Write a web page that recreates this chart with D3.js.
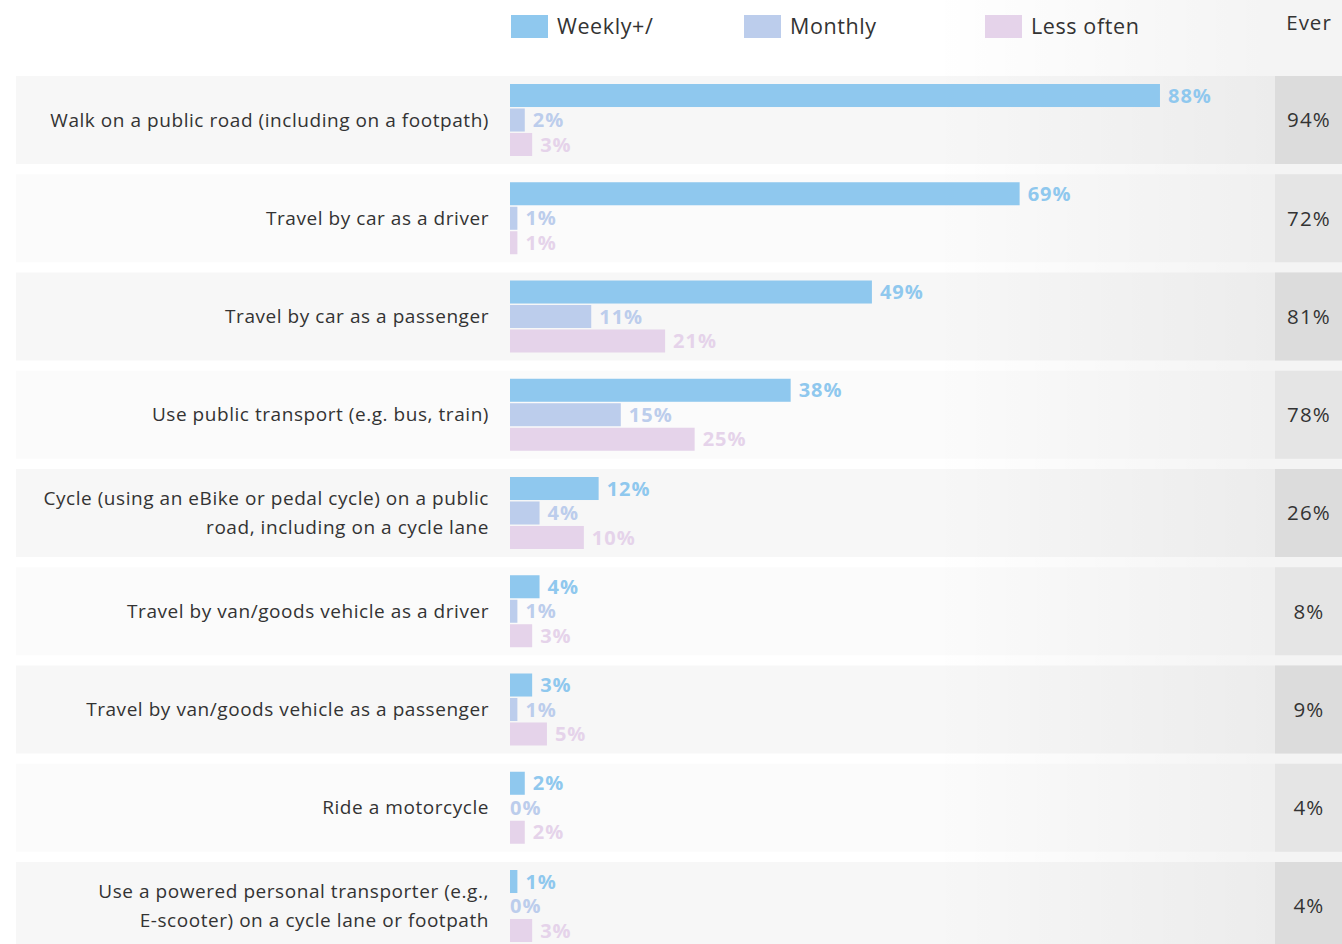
<!DOCTYPE html>
<html>
<head>
<meta charset="utf-8">
<script src="https://cdn.jsdelivr.net/npm/d3@7"></script>
<style>
  html, body { margin: 0; padding: 0; background: #ffffff; }
  svg { display: block; }
  text { font-family: "Open Sans", "Noto Sans", sans-serif; }
</style>
</head>
<body>
<svg id="chart" width="1342" height="944"></svg>
<script>
// Travel modes and how often people use them (% of respondents)
const categories = [
  "Walk on a public road (including on a footpath)",
  "Travel by car as a driver",
  "Travel by car as a passenger",
  "Use public transport (e.g. bus, train)",
  "Cycle (using an eBike or pedal cycle) on a public|road, including on a cycle lane",
  "Travel by van/goods vehicle as a driver",
  "Travel by van/goods vehicle as a passenger",
  "Ride a motorcycle",
  "Use a powered personal transporter (e.g.,|E-scooter) on a cycle lane or footpath"
];
const seriesNames = ["Weekly+/", "Monthly", "Less often"];
const weekly    = [88, 69, 49, 38, 12, 4, 3, 2, 1];
const monthly   = [2, 1, 11, 15, 4, 1, 1, 0, 0];
const lessOften = [3, 1, 21, 25, 10, 3, 5, 2, 3];
const ever      = [94, 72, 81, 78, 26, 8, 9, 4, 4];
const everTitle = "Ever";

const colors = ["#8fc8ee", "#bccdec", "#e5d3ea"];
const seriesValues = [weekly, monthly, lessOften];

const W = 1342, H = 944;
const svg = d3.select("#chart");

const rowLeft = 16, everLeft = 1275;
const y = d3.scaleBand().domain(d3.range(categories.length)).range([76, 950]).paddingInner(0.1043).paddingOuter(0);
const inner = d3.scaleBand().domain(d3.range(3)).range([8, 80]).paddingInner(0.06);
const x = d3.scaleLinear().domain([0, 100]).range([510, 1248.6]);

// soft shading that darkens towards the right side
const defs = svg.append("defs");
const grad = defs.append("linearGradient").attr("id", "shade")
  .attr("gradientUnits", "userSpaceOnUse").attr("x1", 930).attr("x2", everLeft).attr("y1", 0).attr("y2", 0);
grad.append("stop").attr("offset", 0).attr("stop-color", "#000").attr("stop-opacity", 0);
grad.append("stop").attr("offset", 1).attr("stop-color", "#000").attr("stop-opacity", 0.045);

const bgLayer = svg.append("g");
const shadeLayer = svg.append("g");
const fgLayer = svg.append("g");

// row backgrounds
bgLayer.selectAll("rect").data(categories).join("rect")
  .attr("x", rowLeft).attr("y", (d, i) => y(i))
  .attr("width", W - rowLeft).attr("height", y.bandwidth())
  .attr("fill", (d, i) => i % 2 === 0 ? "#f7f7f7" : "#fbfbfb");

shadeLayer.append("rect").attr("x", 0).attr("y", 0).attr("width", W).attr("height", H)
  .attr("fill", "url(#shade)");

const rows = fgLayer.selectAll("g").data(categories).join("g")
  .attr("transform", (d, i) => `translate(0,${y(i)})`);

// "Ever" column cells
rows.append("rect")
  .attr("x", everLeft).attr("width", W - everLeft).attr("height", y.bandwidth())
  .attr("fill", (d, i) => i % 2 === 0 ? "#dcdcdc" : "#e5e5e5");

// category labels
rows.append("text")
  .attr("x", 489)
  .attr("text-anchor", "end")
  .attr("fill", "#333")
  .style("font-size", "19px")
  .style("letter-spacing", "0.55px")
  .each(function(d) {
    const lines = d.split("|");
    const t = d3.select(this);
    const mid = y.bandwidth() / 2;
    const lh = 29;
    lines.forEach((line, k) => {
      t.append("tspan")
        .attr("x", 489)
        .attr("y", mid + (k - (lines.length - 1) / 2) * lh)
        .attr("dy", "0.35em")
        .text(line);
    });
  });

// bars and value labels
seriesValues.forEach((vals, s) => {
  rows.append("rect")
    .attr("x", x(0))
    .attr("y", inner(s))
    .attr("width", (d, i) => x(vals[i]) - x(0))
    .attr("height", inner.bandwidth())
    .attr("fill", colors[s]);

  rows.append("text")
    .attr("x", (d, i) => x(vals[i]) + (vals[i] > 0 ? 8 : 0))
    .attr("y", inner(s) + inner.bandwidth() / 2)
    .attr("dy", "0.36em")
    .attr("fill", colors[s])
    .style("font-size", "20px")
    .style("font-weight", 700)
    .style("letter-spacing", "1px")
    .text((d, i) => vals[i] + "%");
});

// "Ever" values
rows.append("text")
  .attr("x", 1309)
  .attr("y", y.bandwidth() / 2)
  .attr("dy", "0.36em")
  .attr("text-anchor", "middle")
  .attr("fill", "#333")
  .style("font-size", "20.5px")
  .style("letter-spacing", "1.2px")
  .text((d, i) => ever[i] + "%");

// legend
const legendX = [511, 744, 985];
const legend = svg.append("g").selectAll("g").data(seriesNames).join("g")
  .attr("transform", (d, i) => `translate(${legendX[i]},15)`);
legend.append("rect").attr("width", 37).attr("height", 23).attr("fill", (d, i) => colors[i]);
legend.append("text").attr("x", 46).attr("y", 11.5).attr("dy", "0.36em")
  .attr("fill", "#333").style("font-size", "21.5px").style("letter-spacing", "0.6px").text(d => d);

svg.append("text").attr("x", 1309).attr("y", 23).attr("dy", "0.36em")
  .attr("text-anchor", "middle").attr("fill", "#333").style("font-size", "20.5px")
  .style("letter-spacing", "1px")
  .text(everTitle);
</script>
</body>
</html>
